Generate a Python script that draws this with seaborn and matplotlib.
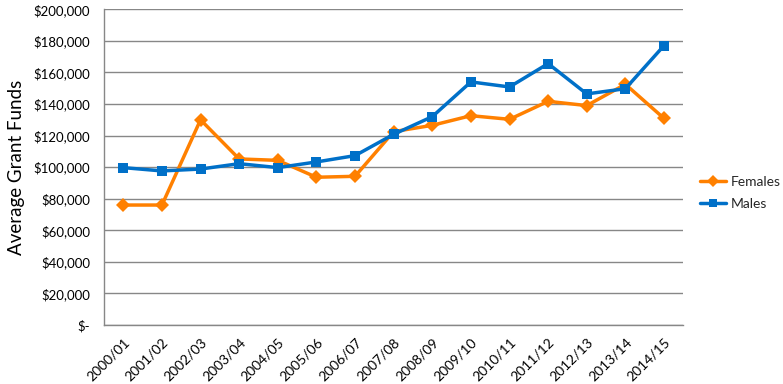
import matplotlib
matplotlib.use("Agg")
import matplotlib.pyplot as plt
import seaborn as sns
import pandas as pd
from matplotlib.ticker import FuncFormatter, FixedLocator
from matplotlib.lines import Line2D

years = ["2000/01", "2001/02", "2002/03", "2003/04", "2004/05", "2005/06", "2006/07",
         "2007/08", "2008/09", "2009/10", "2010/11", "2011/12", "2012/13", "2013/14", "2014/15"]
females = [76000, 76000, 130000, 105200, 104300, 93600, 94200,
           122500, 126500, 132600, 130300, 141700, 139000, 152500, 130900]
males = [99700, 97600, 98800, 102200, 99700, 103300, 107300,
         120800, 132000, 154000, 150800, 165600, 146400, 149700, 177000]

sns.set_theme(style="white")
plt.rcParams['font.family'] = ['Lato', 'DejaVu Sans']

df = pd.DataFrame({
    "idx": list(range(len(years))) * 2,
    "value": females + males,
    "series": ["Females"] * len(years) + ["Males"] * len(years),
})

fig = plt.figure(figsize=(7.83, 3.84), dpi=100)
ax = fig.add_axes([104 / 783, 1 - 325 / 384, (683.3 - 104) / 783, (325 - 9.3) / 384])

palette = {"Females": "#FF8000", "Males": "#0070C8"}
sns.lineplot(data=df, x="idx", y="value", hue="series", style="series",
             markers={"Females": "D", "Males": "s"}, dashes=False,
             palette=palette, linewidth=2.5, markersize=7, markeredgewidth=0,
             ax=ax, legend=False)

ax.set_xlim(-0.5, len(years) - 0.5)
ax.set_ylim(0, 200000)
ax.set_yticks(range(0, 200001, 20000))
ax.yaxis.set_major_formatter(FuncFormatter(lambda v, p: "$-" if v == 0 else f"${int(v):,}"))
ax.grid(axis="y", color="#878787", linewidth=1)
ax.set_axisbelow(True)

ax.set_xticks(range(len(years)))
ax.set_xticklabels(years, rotation=45, ha="right", rotation_mode="anchor", fontsize=10, color="#000000")
ax.xaxis.set_minor_locator(FixedLocator([i - 0.5 for i in range(len(years) + 1)]))
ax.tick_params(axis="x", which="major", length=0, pad=8)
ax.tick_params(axis="x", which="minor", length=5, color="#878787", width=1, direction="out")
ax.tick_params(axis="y", length=4, color="#878787", width=1, direction="out", labelsize=9.5, labelcolor="#000000", pad=6)

for s in ["top", "right"]:
    ax.spines[s].set_visible(False)
for s in ["left", "bottom"]:
    ax.spines[s].set_color("#878787")
    ax.spines[s].set_linewidth(1)

ax.set_xlabel("")
ax.set_ylabel("Average Grant Funds", fontsize=13.5, color="#000000", labelpad=6)

handles = [Line2D([0], [0], color=palette["Females"], marker="D", markersize=6, markeredgewidth=0, linewidth=2.5),
           Line2D([0], [0], color=palette["Males"], marker="s", markersize=6, markeredgewidth=0, linewidth=2.5)]
fig.legend(handles, ["Females", "Males"], loc="center left", bbox_to_anchor=(700 / 783, 1 - 193 / 384),
           frameon=False, fontsize=10, handlelength=1.9, handletextpad=0.3, labelspacing=0.7,
           borderaxespad=0, borderpad=0)

fig.savefig("out.png", dpi=100)
